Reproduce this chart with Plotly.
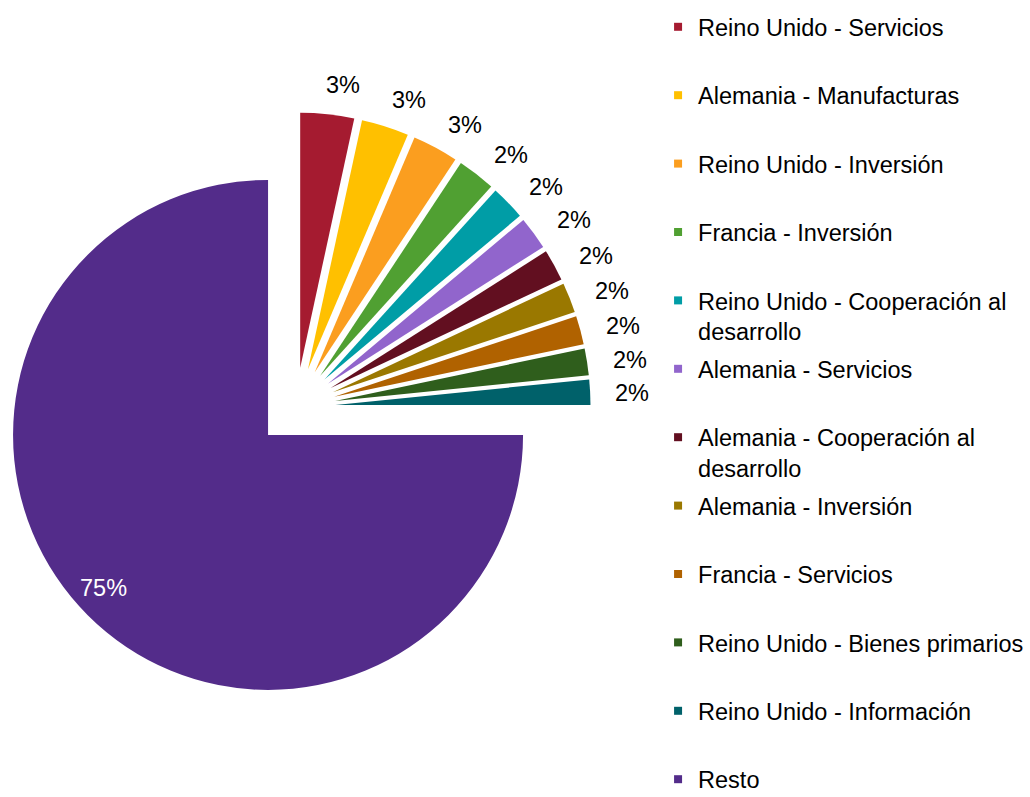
import math
import plotly.graph_objects as go

# Share of total by partner country and sector (%)
categories = [
    "Reino Unido - Servicios",
    "Alemania - Manufacturas",
    "Reino Unido - Inversión",
    "Francia - Inversión",
    "Reino Unido - Cooperación al<br>desarrollo",
    "Alemania - Servicios",
    "Alemania - Cooperación al<br>desarrollo",
    "Alemania - Inversión",
    "Francia - Servicios",
    "Reino Unido - Bienes primarios",
    "Reino Unido - Información",
    "Resto",
]
shares = [3.4, 3.0, 2.9, 2.4, 2.2, 2.1, 2.0, 1.9, 1.8, 1.7, 1.6, 75.0]
colors = [
    "#A51B30", "#FFC000", "#FB9E1F", "#50A032", "#009DA6", "#9165CC",
    "#620F20", "#9A7800", "#B06200", "#2F5E1C", "#00616A", "#532C8A",
]

W, H = 1030, 797
FONT = "Liberation Sans, Arial, sans-serif"
TEXT_SIZE = 23.5

# pie placement (pixels) -> domain
PULL = 0.155
RADIUS = 255.0
CX, CY = 296.0, 407.0
half = RADIUS * (1 + PULL)
dom_x = [(CX - half) / W, (CX + half) / W]
dom_y = [1 - (CY + half) / H, 1 - (CY - half) / H]

fig = go.Figure()
fig.add_trace(
    go.Pie(
        labels=categories,
        values=shares,
        sort=False,
        direction="clockwise",
        rotation=0,
        pull=[PULL] * len(shares),
        marker=dict(colors=colors, line=dict(width=0)),
        textinfo="none",
        hoverinfo="label+percent",
        domain=dict(x=dom_x, y=dom_y),
        showlegend=False,
    )
)

# legend entries with small square keys; all but the last span two lines
# so that every row has the same pitch
last = len(categories) - 1
for i, (name, col) in enumerate(zip(categories, colors)):
    label = name if ("<br>" in name or i == last) else name + "<br> "
    fig.add_trace(
        go.Scatter(
            x=[None], y=[None], mode="markers", name=label,
            legendgroup=name,
            marker=dict(symbol="square", size=8, color=col),
            hoverinfo="skip",
        )
    )

# percentage labels, placed along each slice's mid-angle
total = sum(shares)
annotations = []
cum = 0.0
for i, v in enumerate(shares):
    mid = (cum + v / 2) / total * 360.0
    cum += v
    text = f"{round(v / total * 100):.0f}%"
    if i < len(shares) - 1:
        phi = math.radians(mid + 2.0)
        px = CX + 336 * math.sin(phi)
        py = CY - 9 - 316 * math.cos(phi)
        color = "#000000"
    else:
        a = math.radians(mid)
        ax = CX + PULL * RADIUS * math.sin(a)
        ay = CY - PULL * RADIUS * math.cos(a)
        b = math.radians(mid + 2.0)
        px = ax + 0.88 * RADIUS * math.sin(b)
        py = ay - 0.88 * RADIUS * math.cos(b)
        color = "#FFFFFF"
    annotations.append(
        dict(
            x=px / W, y=1 - py / H, xref="paper", yref="paper",
            text=text, showarrow=False, xanchor="center", yanchor="middle",
            font=dict(family=FONT, size=TEXT_SIZE, color=color),
        )
    )

fig.update_layout(
    width=W,
    height=H,
    margin=dict(l=0, r=0, t=0, b=0, autoexpand=False),
    paper_bgcolor="#FFFFFF",
    plot_bgcolor="#FFFFFF",
    showlegend=True,
    annotations=annotations,
    xaxis=dict(visible=False, domain=[0, 1]),
    yaxis=dict(visible=False, domain=[0, 1]),
    legend=dict(
        x=0.6389,
        y=0.9937,
        xanchor="left",
        yanchor="top",
        valign="top",
        tracegroupgap=4.3,
        maxheight=2000,
        font=dict(family=FONT, size=TEXT_SIZE, color="#000000"),
        bgcolor="rgba(0,0,0,0)",
    ),
)

fig.write_html("out.html")
